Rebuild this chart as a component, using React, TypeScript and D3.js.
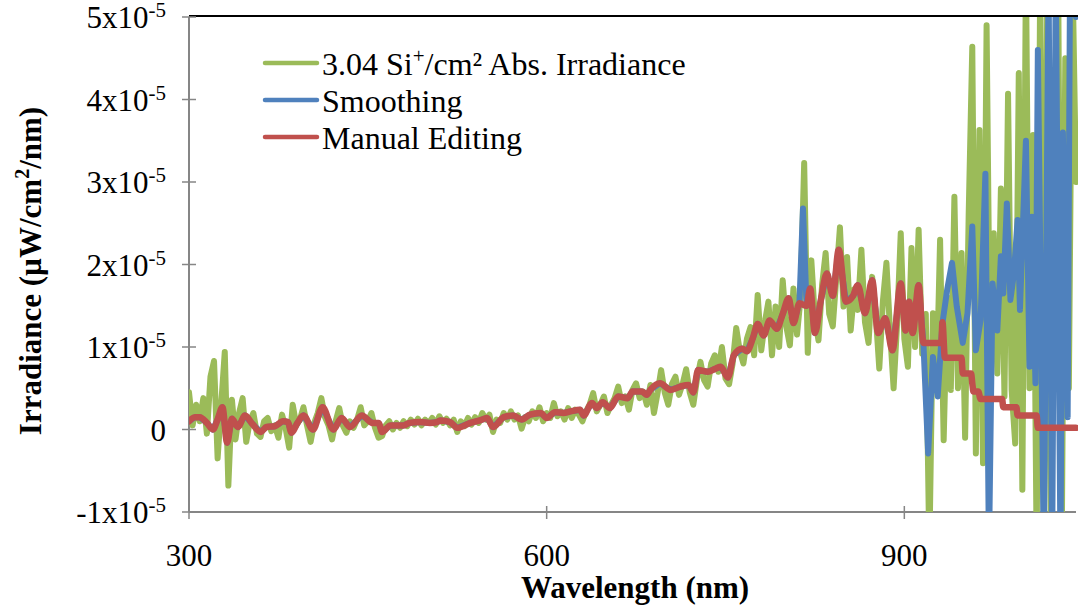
import React from "react";
import * as d3 from "d3";

// Irradiance values are stored in units of 1x10^-5 µW/cm²/nm.
const X_DOMAIN: [number, number] = [300, 1044];
const Y_DOMAIN: [number, number] = [-1, 5];
const X_TICKS = [300, 600, 900];
const Y_TICKS = [-1, 0, 1, 2, 3, 4, 5];

// Measured spectrum, sampled every 3 nm from 300 nm to 1044 nm.
const wavelengths = d3.range(300, 1045, 3);
const absIrradiance = [
  0.45, 0.05, 0.30, 0.10, 0.38, -0.05, 0.64, 0.83, -0.35, 0.30, // 300
  0.94, -0.68, 0.36, -0.12, 0.20, 0.38, -0.15, 0.10, 0.20, -0.05, // 330
  -0.09, 0.10, 0.14, -0.02, 0.05, -0.10, 0.18, 0.02, -0.22, 0.30, // 360
  0.05, 0.12, 0.27, 0.05, -0.15, 0.08, 0.20, 0.38, 0.15, 0.05, // 390
  -0.12, 0.10, 0.26, 0.05, -0.04, 0.10, 0.02, 0.12, 0.27, 0.05, // 420
  0.10, 0.20, 0.02, -0.10, -0.08, 0.05, 0.10, 0.00, 0.08, 0.02, // 450
  0.10, 0.04, 0.12, 0.06, 0.13, 0.05, 0.12, 0.08, 0.14, 0.06, // 480
  0.16, 0.08, 0.13, 0.05, 0.12, -0.03, 0.10, 0.04, 0.14, 0.06, // 510
  0.15, 0.08, 0.20, 0.12, 0.18, -0.03, 0.12, 0.08, 0.20, 0.12, // 540
  0.22, 0.12, 0.17, 0.01, 0.15, 0.10, 0.22, 0.14, 0.27, 0.10, // 570
  0.20, 0.14, 0.32, 0.16, 0.22, 0.12, 0.26, 0.14, 0.24, 0.18, // 600
  0.10, 0.22, 0.30, 0.44, 0.22, 0.30, 0.40, 0.20, 0.30, 0.38, // 630
  0.52, 0.32, 0.40, 0.24, 0.48, 0.56, 0.38, 0.46, 0.30, 0.54, // 660
  0.20, 0.44, 0.72, 0.45, 0.30, 0.55, 0.64, 0.42, 0.55, 0.73, // 690
  0.45, 0.30, 0.60, 0.82, 0.60, 0.52, 0.80, 0.90, 0.70, 1.00, // 720
  0.62, 0.55, 0.80, 1.23, 0.95, 0.80, 1.10, 1.24, 0.90, 1.63, // 750
  0.96, 1.30, 1.55, 0.90, 1.49, 1.00, 1.81, 1.25, 1.02, 1.71, // 780
  1.15, 1.60, 3.23, 0.93, 2.05, 1.35, 1.08, 1.75, 2.14, 1.40, // 810
  1.25, 1.85, 2.45, 1.49, 2.09, 1.20, 1.70, 1.45, 2.18, 1.30, // 840
  1.05, 1.85, 1.40, 0.74, 1.55, 2.02, 1.20, 0.50, 1.30, 2.38, // 870
  1.10, 0.76, 2.20, 1.00, 2.42, 0.92, 1.40, -1.50, 1.41, 0.50, // 900
  2.30, -0.13, 1.60, 0.48, 2.82, 0.50, 2.14, -0.10, 2.62, 4.64, // 930
  -0.29, 3.63, -0.41, 4.90, 0.64, 2.38, 0.68, 2.92, 0.40, 4.07, // 960
  0.48, -0.17, 4.32, -0.73, 5.60, 0.50, 3.57, -1.50, 5.60, -1.50, // 990
  5.60, -1.50, 3.80, 5.60, -1.50, 4.50, 0.50, 5.60, 3.00, // 1020
];

// Hand-edited curve: [wavelength nm, irradiance].
const manualEditing: [number, number][] = [
  [300, 0.10], [305, 0.15], [309, 0.15], [315, 0.08], [320, 0.00], [324, 0.12],
  [328, 0.27], [332, -0.16], [336, 0.13], [341, 0.03], [347, 0.17], [353, 0.07],
  [360, -0.03], [365, 0.03], [372, 0.04], [379, 0.10], [383, 0.09], [386, -0.04],
  [391, 0.08], [396, 0.17], [404, 0.00], [412, 0.27], [421, 0.00], [428, 0.14],
  [435, 0.03], [445, 0.17], [454, 0.08], [459, 0.08], [462, -0.03], [469, 0.05],
  [480, 0.05], [485, 0.08], [494, 0.09], [502, 0.08], [508, 0.09], [511, 0.11],
  [519, 0.09], [525, 0.02], [536, 0.08], [544, 0.11], [550, 0.14], [555, 0.03],
  [564, 0.15], [572, 0.17], [579, 0.12], [586, 0.18], [595, 0.20], [600, 0.14],
  [607, 0.21], [614, 0.20], [620, 0.22], [628, 0.24], [631, 0.17], [638, 0.32],
  [642, 0.26], [647, 0.33], [653, 0.26], [660, 0.40], [668, 0.38], [672, 0.46],
  [680, 0.46], [684, 0.42], [687, 0.48], [695, 0.56], [704, 0.48], [712, 0.52],
  [719, 0.54], [723, 0.45], [727, 0.72], [735, 0.70], [742, 0.74], [746, 0.76],
  [752, 0.63], [757, 0.90], [764, 0.98], [768, 0.95], [773, 1.11], [777, 1.28],
  [782, 1.14], [787, 1.32], [793, 1.22], [798, 1.40], [803, 1.59], [807, 1.29],
  [812, 1.53], [818, 1.50], [821, 1.71], [825, 1.17], [830, 1.57], [835, 1.89],
  [840, 1.62], [845, 2.18], [851, 1.55], [857, 1.62], [861, 1.75], [867, 1.41],
  [873, 1.81], [878, 1.17], [884, 1.35], [890, 0.96], [897, 1.77], [901, 1.20],
  [904, 1.55], [907, 1.17], [912, 1.75], [916, 1.05], [931, 1.05], [932, 1.30],
  [934, 0.87], [948, 0.87], [949, 0.68], [956, 0.68], [957, 0.56], [958, 0.46],
  [962, 0.46], [964, 0.37], [982, 0.37], [983, 0.27], [994, 0.27], [995, 0.17],
  [1011, 0.17], [1012, 0.02], [1044, 0.02],
];

// Smoothed curve: follows the edited curve except at the 815 nm peak and beyond 916 nm.
const smoothingPeak: [number, number][] = [[815, 2.68]];
const smoothingTail: [number, number][] = [
  [920, -0.29], [924, 0.88], [928, 0.40], [932, 1.29], [936, 1.70], [940, 2.02],
  [944, 1.49], [949, 1.05], [953, 1.41], [957, 2.46], [960, 0.96], [964, 1.33],
  [968, 3.10], [971, -1.50], [974, 1.77], [978, 1.20], [981, 2.10], [983, 1.65],
  [986, 2.74], [989, 1.57], [992, 1.90], [995, 2.54], [997, 1.45], [1002, 3.50],
  [1005, 0.76], [1007, 2.58], [1010, 0.56], [1012, 4.60], [1017, -1.50], [1021, 5.50],
  [1024, -1.50], [1027, 5.50], [1031, -1.50], [1033, 3.60], [1037, 0.15], [1039, 5.50],
  [1044, 5.00],
];

const SERIES_NAMES = ["Smoothing", "Manual Editing"];
const COLORS = { abs: "#9BBB59", smooth: "#4F81BD", manual: "#C0504D" };

const FONT = "Liberation Serif, Times New Roman, Times, serif";

export default function App() {
  const left = 189;
  const right = 1076;
  const top = 17;
  const bottom = 512;

  const x = d3.scaleLinear().domain(X_DOMAIN).range([left, right]);
  const y = d3.scaleLinear().domain(Y_DOMAIN).range([bottom, top]);

  const absPoints: [number, number][] = wavelengths.map((w, i) => [w, absIrradiance[i]]);
  const smoothingPoints: [number, number][] = [
    ...manualEditing.filter((p) => p[0] <= 812),
    ...smoothingPeak,
    ...manualEditing.filter((p) => p[0] >= 818 && p[0] <= 916),
    ...smoothingTail,
  ];

  const line = d3
    .line<[number, number]>()
    .x((d) => x(d[0]))
    .y((d) => y(d[1]));
  const smoothLine = d3
    .line<[number, number]>()
    .x((d) => x(d[0]))
    .y((d) => y(d[1]))
    .curve(d3.curveMonotoneX);

  const axisColor = "#868686";
  const textStyle = { fontFamily: FONT };

  const legendItems = [
    { color: COLORS.abs, key: "abs" },
    { color: COLORS.smooth, key: "smooth" },
    { color: COLORS.manual, key: "manual" },
  ];

  return (
    <svg
      width={1078}
      height={606}
      style={{ position: "absolute", left: 0, top: 0, background: "#fff" }}
    >
      <defs>
        <clipPath id="plot-clip">
          <rect x={left} y={top} width={right - left + 2} height={bottom - top} />
        </clipPath>
      </defs>

      {/* top frame line */}
      <line x1={left} x2={1078} y1={y(5) - 1} y2={y(5) - 1} stroke="#000" strokeWidth={2} />

      {/* y axis */}
      <line x1={left} x2={left} y1={top} y2={bottom} stroke={axisColor} strokeWidth={2} />
      {Y_TICKS.map((v) => (
        <g key={v}>
          <line x1={left - 7} x2={left + 7} y1={y(v)} y2={y(v)} stroke={axisColor} strokeWidth={1.5} />
          <text x={166} y={y(v) + 11} textAnchor="end" fontSize={31} fill="#000" style={textStyle}>
            {v === 0 ? (
              "0"
            ) : (
              <>
                {`${v}x10`}
                <tspan dy={-11} fontSize={21}>
                  -5
                </tspan>
              </>
            )}
          </text>
        </g>
      ))}

      {/* x axis */}
      <line x1={left} x2={right} y1={bottom} y2={bottom} stroke={axisColor} strokeWidth={2} />
      {X_TICKS.map((v) => (
        <g key={v}>
          <line x1={x(v)} x2={x(v)} y1={bottom - 6} y2={bottom + 7} stroke={axisColor} strokeWidth={1.5} />
          <text x={x(v)} y={566} textAnchor="middle" fontSize={31} fill="#000" style={textStyle}>
            {v}
          </text>
        </g>
      ))}

      {/* series */}
      <g clipPath="url(#plot-clip)" fill="none" strokeLinejoin="round" strokeLinecap="round">
        <path d={line(absPoints) ?? ""} stroke={COLORS.abs} strokeWidth={6} />
        <path d={line(smoothingPoints) ?? ""} stroke={COLORS.smooth} strokeWidth={6} />
        <path d={smoothLine(manualEditing) ?? ""} stroke={COLORS.manual} strokeWidth={6.5} />
      </g>

      {/* legend */}
      {legendItems.map((item, i) => (
        <line
          key={item.key}
          x1={265}
          x2={317}
          y1={63 + i * 37}
          y2={63 + i * 37}
          stroke={item.color}
          strokeWidth={4.5}
          strokeLinecap="round"
        />
      ))}
      <text x={322} y={75} fontSize={32} fill="#000" style={textStyle}>
        3.04 Si
        <tspan dy={-12} fontSize={21}>
          +
        </tspan>
        <tspan dy={12}>/cm² Abs. Irradiance</tspan>
      </text>
      <text x={322} y={112} fontSize={32} fill="#000" style={textStyle}>
        {SERIES_NAMES[0]}
      </text>
      <text x={322} y={149} fontSize={32} fill="#000" style={textStyle}>
        {SERIES_NAMES[1]}
      </text>

      {/* axis titles */}
      <text x={635} y={598} textAnchor="middle" fontSize={31} fontWeight="bold" fill="#000" style={textStyle}>
        Wavelength (nm)
      </text>
      <text
        transform="translate(41, 271) rotate(-90)"
        textAnchor="middle"
        fontSize={31}
        fontWeight="bold"
        fill="#000"
        style={textStyle}
      >
        Irradiance (µW/cm
        <tspan dy={-12} fontSize={20}>
          2
        </tspan>
        <tspan dy={12}>/nm)</tspan>
      </text>
    </svg>
  );
}
